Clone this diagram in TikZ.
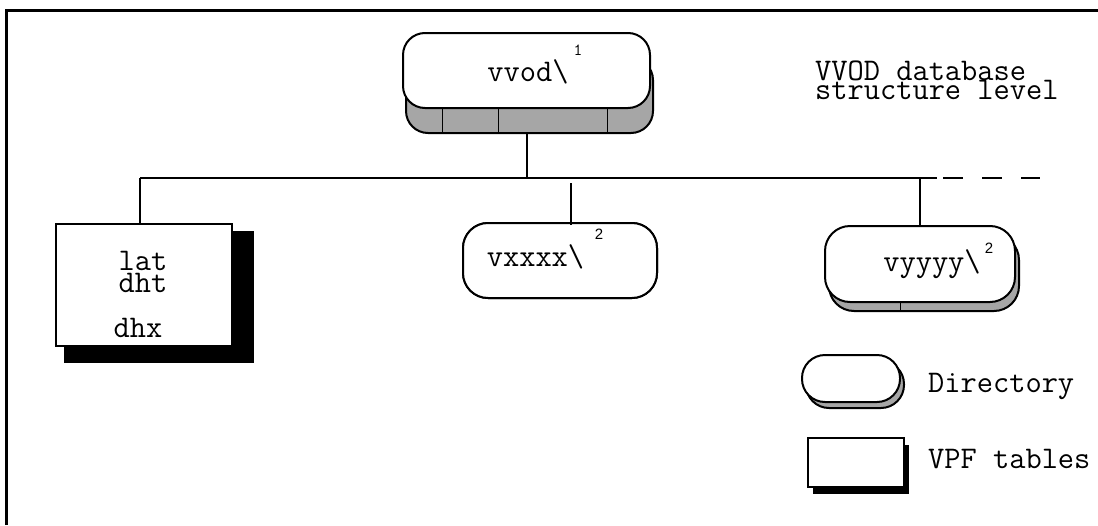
\documentclass[tikz,border=0pt]{standalone}
\usepackage{fontspec}
\newfontfamily\supfont{Liberation Sans}
\newcommand\tightlines{\setlength{\lineskiplimit}{-30pt}}
\usetikzlibrary{shadows,calc}

\begin{document}
\begin{tikzpicture}[x=1pt,y=-1pt,
  lbl/.style={font=\ttfamily\fontsize{31.5}{32}\selectfont,inner sep=0pt},
  tight/.style={font={\ttfamily\fontsize{31.5}{#1}\selectfont\tightlines},inner sep=0pt},
  sup/.style={font=\supfont\fontsize{15}{16}\selectfont,inner sep=0pt},
  dirbox/.style args={#1,#2}{draw,line width=2pt,fill=white,inner sep=0pt,
    general shadow={fill=black!35,draw=black,shadow xshift=#1pt,shadow yshift=-#2pt}},
  tabbox/.style args={#1,#2,#3}{draw,line width=2pt,fill=white,inner sep=0pt,
    general shadow={fill=black,shadow xshift=#1pt,shadow yshift=-#2pt,shadow scale=#3}}]
  \useasboundingbox (0,0) rectangle (1098,525);
  \draw[line width=3pt] (6,525) -- (6,10) -- (1098,10);
  % directories
  \node[dirbox={3,25},rounded corners=22pt,minimum width=247pt,minimum height=75pt] (vvod) at (526.5,70.5) {};
  \foreach \xx in {442,498,607} \draw[line width=0.8pt] (\xx,109) -- (\xx,132);
  \node[lbl,anchor=base] (vvodtxt) at (528,81.7) {vvod\textbackslash};
  \node[lbl,font=\ttfamily\fontsize{17}{18}\selectfont,anchor=base] (vvodsup) at (578,55) {1};
  \node[dirbox={0,0},rounded corners=25pt,minimum width=194pt,minimum height=75pt] (vxxxx) at (560,260.5) {};
  \node[lbl,anchor=base] (vxxxxtxt) at (535.5,266.5) {vxxxx\textbackslash};
  \node[sup,anchor=base] (vxxxxsup) at (599,239) {2};
  \node[dirbox={4,9},rounded corners=25pt,minimum width=190pt,minimum height=76pt] (vyyyy) at (920,264) {};
  \draw[line width=0.8pt] (900,303) -- (900,310);
  \node[lbl,anchor=base] (vyyyytxt) at (932,271.5) {vyyyy\textbackslash};
  \node[sup,anchor=base] (vyyyysup) at (989,253) {2};
  % tables
  \node[tabbox={14,11,1.08},minimum width=176pt,minimum height=122pt] (tab) at (144,285) {};
  \node[tight=22,align=center,anchor=base] (latdht) at (143,292) {lat\\dht};
  \node[lbl,anchor=base] (dhx) at (138,337) {dhx};
  % tree
  \coordinate (busL) at (140,178);
  \coordinate (busR) at (937,178);
  \coordinate (busend) at (1040,178);
  \coordinate (gapx) at (571,183);
  \draw[line width=2pt] (busL) -- (busR);
  \draw[line width=2pt,dash pattern=on 20pt off 19pt] ([xshift=6pt]busR) -- (busend);
  \draw[line width=2pt] ([yshift=-25pt]vvod.south) -- (vvod.south |- busL);
  \draw[line width=2pt] ([xshift=-4pt]tab.north) -- ([xshift=-4pt]tab.north |- busL);
  \draw[line width=2pt] (gapx) -- ([yshift=-3pt]gapx |- vxxxx.north);
  \draw[line width=2pt] (vyyyy.north) -- (vyyyy.north |- busL);
  % title and legend
  \node[tight=19,align=left,anchor=base west] (title) at (815,99) {VVOD database\\structure level};
  \node[dirbox={4,6},rounded corners=23pt,minimum width=98pt,minimum height=47pt] (legdir) at (851,378.5) {};
  \node[lbl,anchor=base west] (legdirtxt) at (928,392) {Directory};
  \node[tabbox={5,7,1},minimum width=96pt,minimum height=49pt] (legtab) at (856,462.5) {};
  \node[lbl,anchor=base west] (legtabtxt) at (928,468.5) {VPF tables};
\end{tikzpicture}
\end{document}
